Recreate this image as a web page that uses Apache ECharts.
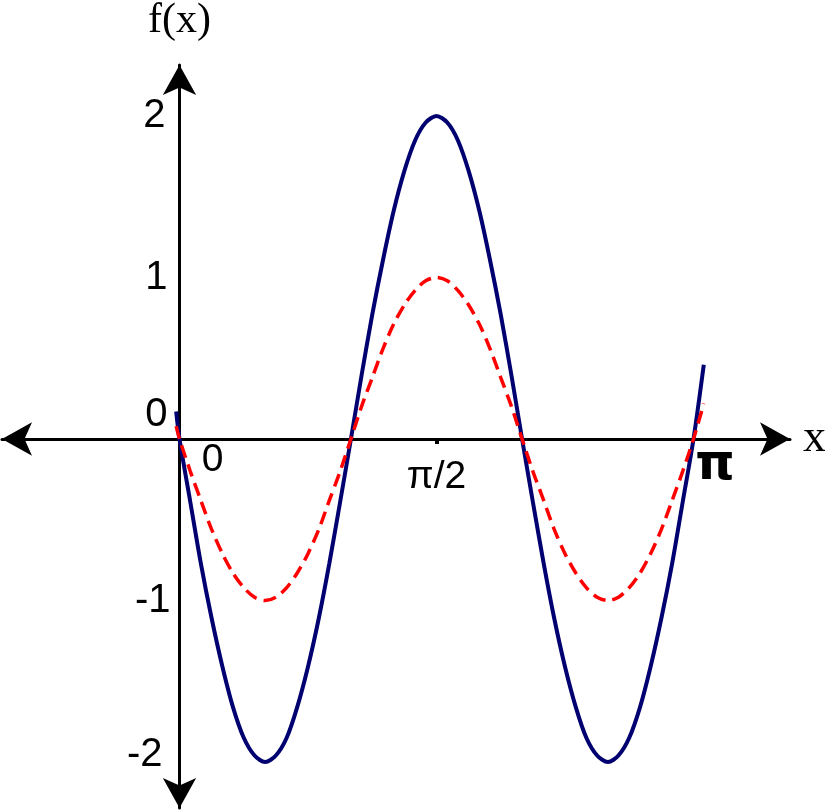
<!DOCTYPE html>
<html style="height: 100%">
<head>
    <meta charset="utf-8">
    <style type="text/css">
        #container{width: 825px;height: 811px;}
    </style>
</head>
<body style="height: 100%; margin: 0; background: #ffffff">
<div id="container"></div>
<script src="https://cdn.jsdelivr.net/npm/echarts@6/dist/echarts.min.js"></script>
<script type="text/javascript">
    // x is measured in units of pi/2 (0 -> 0, 1 -> pi/2, 2 -> pi)
    var xs = [-0.013,
        0, 0.042, 0.083, 0.125, 0.167, 0.208, 0.25, 0.292, 0.333, 0.375, 0.417, 0.458,
        0.5, 0.542, 0.583, 0.625, 0.667, 0.708, 0.75, 0.792, 0.833, 0.875, 0.917, 0.958,
        1, 1.042, 1.083, 1.125, 1.167, 1.208, 1.25, 1.292, 1.333, 1.375, 1.417, 1.458,
        1.5, 1.542, 1.583, 1.625, 1.667, 1.708, 1.75, 1.792, 1.833, 1.875, 1.917, 1.958,
        2, 2.04];
    // solid navy curve
    var solidVals = [0.17,
        0, -0.39, -0.77, -1.11, -1.41, -1.66, -1.85, -1.96, -2, -1.96, -1.85, -1.66,
        -1.41, -1.11, -0.77, -0.39, 0, 0.39, 0.77, 1.11, 1.41, 1.66, 1.85, 1.96,
        2, 1.96, 1.85, 1.66, 1.41, 1.11, 0.77, 0.39, 0, -0.39, -0.77, -1.11,
        -1.41, -1.66, -1.85, -1.96, -2, -1.96, -1.85, -1.66, -1.41, -1.11, -0.77, -0.39,
        0, 0.46];
    // dashed red curve
    var dashVals = [0.08,
        0, -0.2, -0.38, -0.56, -0.71, -0.83, -0.92, -0.98, -1, -0.98, -0.92, -0.83,
        -0.71, -0.56, -0.38, -0.2, 0, 0.2, 0.38, 0.56, 0.71, 0.83, 0.92, 0.98,
        1, 0.98, 0.92, 0.83, 0.71, 0.56, 0.38, 0.2, 0, -0.2, -0.38, -0.56,
        -0.71, -0.83, -0.92, -0.98, -1, -0.98, -0.92, -0.83, -0.71, -0.56, -0.38, -0.2,
        0, 0.22];
    var xTicks = [0, 1, 2];
    var xTickText = {0: '{a|0}', 1: '{b|π/2}', 2: '{c|π}'};
    var yTicks = [-2, -1, 0, 1, 2];
    var yTickStyle = {'-2': 'm2', '-1': 'm1', '0': 'z', '1': 'p1', '2': 'p2'};

    function pairs(vals) {
        var out = [];
        for (var i = 0; i < xs.length; i++) out.push([xs[i], vals[i]]);
        return out;
    }

    var dom = document.getElementById("container");
    var chart = echarts.init(dom);
    var sans = 'Liberation Sans, Arial, sans-serif';
    var serif = 'Liberation Serif, Times New Roman, serif';

    var option = {
        backgroundColor: '#ffffff',
        animation: false,
        grid: {
            left: 2,
            right: 35,
            top: 65,
            bottom: 3,
            containLabel: false,
            outerBoundsMode: 'none'
        },
        xAxis: {
            type: 'value',
            min: -0.6907,
            max: 2.3755,
            position: 'bottom',
            offset: -369,
            name: 'x',
            nameLocation: 'end',
            nameGap: 13,
            nameTextStyle: {fontFamily: serif, fontSize: 46, color: '#000', padding: [20, 0, 0, 0]},
            axisLine: {
                onZero: false,
                symbol: ['arrow', 'arrow'],
                symbolSize: [25, 30],
                lineStyle: {color: '#000', width: 3}
            },
            axisTick: {
                show: true,
                customValues: [1],
                length: 5,
                lineStyle: {color: '#000', width: 4}
            },
            axisLabel: {
                customValues: xTicks,
                margin: 2,
                color: '#000',
                fontFamily: sans,
                fontSize: 39,
                formatter: function (v) { return xTickText[v]; },
                rich: {
                    a: {fontFamily: sans, fontSize: 39, padding: [0, 0, 0, 66]},
                    b: {fontFamily: sans, fontSize: 39, padding: [17, 0, 0, 0]},
                    c: {fontFamily: 'DejaVu Sans', fontSize: 50, fontWeight: 'bold', padding: [0, 0, 0, 43]}
                }
            },
            splitLine: {show: false}
        },
        yAxis: {
            type: 'value',
            min: -2.285,
            max: 2.316,
            position: 'left',
            offset: -177.5,
            name: 'f(x)',
            nameLocation: 'end',
            nameGap: 23,
            nameTextStyle: {fontFamily: serif, fontSize: 42, color: '#000'},
            axisLine: {
                onZero: false,
                symbol: ['arrow', 'arrow'],
                symbolSize: [25, 30],
                lineStyle: {color: '#000', width: 3}
            },
            axisTick: {show: false},
            axisLabel: {
                customValues: yTicks,
                margin: 9,
                color: '#000',
                fontFamily: sans,
                fontSize: 40,
                formatter: function (v) {
                    return '{' + yTickStyle[String(v)] + '|' + v + '}';
                },
                rich: {
                    z: {fontFamily: sans, fontSize: 40, padding: [0, 3, 48, 0]},
                    m1: {fontFamily: sans, fontSize: 40, padding: [0, 0, 0, 0]},
                    m2: {fontFamily: sans, fontSize: 40, padding: [0, 8, 14, 0]},
                    p1: {fontFamily: sans, fontSize: 40, padding: [0, 3, 0, 0]},
                    p2: {fontFamily: sans, fontSize: 40, padding: [0, 5, 0, 0]}
                }
            },
            splitLine: {show: false}
        },
        series: [
            {
                name: 'dashed',
                type: 'line',
                data: pairs(dashVals),
                smooth: 0.3,
                showSymbol: false,
                lineStyle: {color: '#ff0000', width: 3.5, type: [13, 7]},
                z: 3
            },
            {
                name: 'solid',
                type: 'line',
                data: pairs(solidVals),
                smooth: 0.3,
                showSymbol: false,
                lineStyle: {color: '#000070', width: 4},
                z: 2
            }
        ]
    };
    chart.setOption(option);
</script>
</body>
</html>
